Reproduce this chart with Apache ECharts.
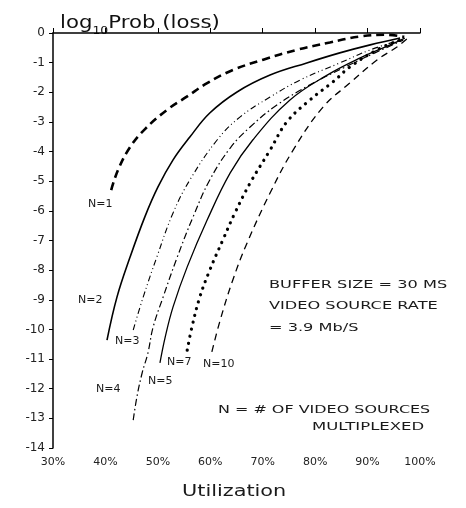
<!DOCTYPE html>
<html><head><meta charset="utf-8">
<script src="https://cdn.jsdelivr.net/npm/echarts@6/dist/echarts.min.js"></script>
<style>html,body{margin:0;padding:0;background:#fff}#c{width:466px;height:508px}</style>
</head><body><div id="c"></div>
<script>
const xTicks = [30, 40, 50, 60, 70, 80, 90, 100];
const xTickLabels = ['30%', '40%', '50%', '60%', '70%', '80%', '90%', '100%'];
const yTicks = [0,-1,-2,-3,-4,-5,-6,-7,-8,-9,-10,-11,-12,-13,-14];
const seriesNames = ['N=1','N=2','N=3','N=4','N=5','N=7','N=10'];
const n1 = [[41.1,-5.3],[42.4,-4.62],[44.7,-3.85],[47.5,-3.25],[51.7,-2.6],[55.6,-2.14],[59.4,-1.69],[64.3,-1.25],[70.1,-0.9],[76.5,-0.57],[82.8,-0.32],[88.5,-0.12],[93.5,-0.06],[97.0,-0.13]];
const n2 = [[40.3,-10.36],[42.2,-8.91],[44.7,-7.56],[47.5,-6.21],[50.0,-5.2],[52.9,-4.28],[56.1,-3.51],[59.9,-2.7],[65.1,-1.99],[71.4,-1.42],[78.4,-1.01],[84.7,-0.67],[90.5,-0.4],[96.2,-0.17]];
const n3 = [[45.3,-10.02],[47.2,-8.91],[49.8,-7.56],[52.9,-6.07],[56.1,-4.96],[61.3,-3.61],[65.7,-2.83],[71.4,-2.16],[77.1,-1.59],[84.7,-1.01],[90.5,-0.57],[96.2,-0.24]];
const n4 = [[45.3,-13.06],[46.0,-12.28],[47.0,-11.47],[48.1,-10.8],[49.1,-9.92],[51.0,-8.91],[53.7,-7.56],[56.7,-6.21],[59.9,-4.96],[63.8,-3.88],[67.6,-3.17],[72.7,-2.43],[79.0,-1.75],[85.7,-1.15],[91.4,-0.67],[96.8,-0.24]];
const n5 = [[50.4,-11.13],[51.4,-10.26],[52.9,-9.24],[55.6,-7.89],[59.4,-6.31],[63.8,-4.72],[68.1,-3.61],[75.2,-2.26],[82.3,-1.42],[88.6,-0.84],[94.3,-0.4],[97.1,-0.17]];
const n7 = [[55.6,-10.7],[56.5,-9.92],[58.0,-8.91],[59.9,-8.0],[62.4,-6.98],[64.7,-6.07],[67.6,-5.06],[71.4,-3.95],[74.6,-3.0],[79.0,-2.26],[83.4,-1.65],[86.6,-1.15],[91.8,-0.57],[96.2,-0.24]];
const n10 = [[60.3,-10.76],[61.9,-9.68],[64.3,-8.33],[67.0,-7.09],[71.4,-5.4],[75.8,-3.95],[81.5,-2.5],[86.6,-1.69],[91.8,-0.91],[95.6,-0.47],[97.7,-0.17]];
const allData = [n1, n2, n3, n4, n5, n7, n10];

const styles = [
  {width: 2.6, type: [8, 5]},
  {width: 1.6, type: 'solid'},
  {width: 1.1, type: [6, 3, 1, 3, 1, 3]},
  {width: 1.2, type: [7, 3, 1.5, 3]},
  {width: 1.3, type: 'solid'},
  {width: 3.2, type: [0.1, 7], cap: 'round'},
  {width: 1.3, type: [7, 5]}
];

const font = 'DejaVu Sans, sans-serif';
function txt(text, x, y, size, sx) {
  return {type: 'text', x: x, y: y, scaleX: sx || 1, style: {text: text, font: size + 'px ' + font, fill: '#1a1a1a', verticalAlign: 'middle'}};
}
const chart = echarts.init(document.getElementById('c'), null, {renderer: 'canvas'});
const option = {
  backgroundColor: '#fff',
  animation: false,
  grid: {left: 53, right: 46, top: 33, bottom: 60},
  xAxis: {
    type: 'value', min: 30, max: 100, interval: 10,
    axisLine: {show: true, lineStyle: {color: '#000', width: 1.5}},
    axisTick: {show: true, inside: true, length: 5, lineStyle: {color: '#000'}},
    splitLine: {show: false},
    axisLabel: {color: '#222', fontFamily: font, fontSize: 11, margin: 9,
      formatter: v => xTickLabels[xTicks.indexOf(v)]}
  },
  yAxis: {
    type: 'value', min: -14, max: 0, interval: 1,
    axisLine: {show: true, lineStyle: {color: '#000', width: 1.5}},
    axisTick: {show: true, length: 4, lineStyle: {color: '#000'}},
    splitLine: {show: false},
    axisLabel: {color: '#222', fontFamily: font, fontSize: 12, margin: 8,
      formatter: v => (yTicks.indexOf(v) >= 0 ? String(v) : '')}
  },
  series: allData.map((d, i) => ({
    name: seriesNames[i], type: 'line', data: d, smooth: 0.4, symbol: 'none',
    lineStyle: {color: '#000', width: styles[i].width, type: styles[i].type, cap: styles[i].cap || 'butt'}
  })),
  graphic: [
    {type: 'rect', shape: {x: 266, y: 445, width: 12, height: 6}, style: {fill: '#fff'}, z: 100},
    {type: 'text', x: 60, y: 12, scaleX: 1.25, style: {
      text: '{a|log}{s|10}{a|Prob (loss)}', fill: '#111',
      rich: {a: {fontFamily: font, fontSize: 17, fill: '#111'}, s: {fontFamily: font, fontSize: 10, fill: '#111', padding: [14, 0, 0, 0]}}
    }},
    txt('Utilization', 182, 492, 16, 1.3),
    txt('N=1', 88, 204, 11),
    txt('N=2', 78, 300, 11),
    txt('N=3', 115, 341, 11),
    txt('N=4', 96, 389, 11),
    txt('N=5', 148, 381, 11),
    txt('N=7', 167, 362, 11),
    txt('N=10', 203, 364, 11),
    txt('BUFFER SIZE = 30 MS', 269, 285, 11, 1.47),
    txt('VIDEO SOURCE RATE', 269, 306, 11, 1.47),
    txt('= 3.9 Mb/S', 269, 328, 11, 1.47),
    txt('N = # OF VIDEO SOURCES', 218, 410, 11, 1.45),
    txt('MULTIPLEXED', 312, 427, 11, 1.5)
  ]
};
chart.setOption(option);
</script></body></html>
